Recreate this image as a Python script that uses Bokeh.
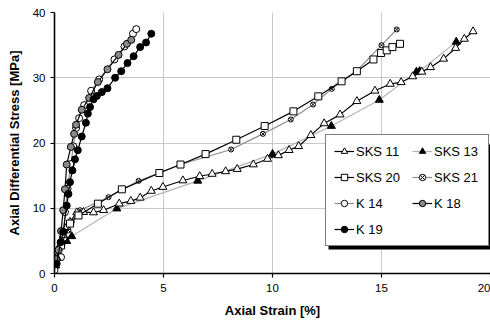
from bokeh.plotting import figure
from bokeh.models import Range1d, Legend, LegendItem, BoxAnnotation, FixedTicker
from bokeh.embed import file_html
from bokeh.resources import INLINE

# ---- data ----
sks11_x = [0.02, 0.1, 0.25, 0.4, 0.56, 0.71, 1.02, 1.33, 1.79, 2.25, 2.97, 3.5, 3.93, 4.44, 4.97, 5.89,
           6.66, 7.23, 7.85, 8.38, 9.12, 9.77, 10.27, 10.76, 11.2, 11.76, 12.37, 13.1, 13.87, 14.7, 15.4,
           15.9, 16.43, 16.85, 17.25, 17.85, 18.4, 18.8, 19.2]
sks11_y = [1.5, 2.5, 4.3, 5.9, 7.1, 7.9, 9.35, 9.4, 9.35, 9.7, 10.7, 11.1, 11.6, 12.65, 13.25, 14.25,
           14.9, 15.25, 15.65, 16.0, 16.7, 17.55, 18.1, 18.9, 19.5, 21.2, 23.0, 24.35, 26.4, 28.0, 29.05,
           29.3, 30.2, 30.9, 31.6, 32.9, 34.55, 35.95, 37.1]

sks13_x = [0.05, 0.56, 0.79, 2.86, 6.57, 10.0, 12.7, 14.9, 16.6, 16.75, 18.43]
sks13_y = [1.2, 4.95, 5.7, 9.95, 14.2, 18.3, 22.6, 26.6, 30.9, 31.0, 35.5]

sks20_x = [0.05, 0.3, 0.71, 1.1, 1.99, 3.09, 4.81, 5.78, 6.93, 8.34, 9.64, 10.96, 12.1, 13.17, 13.87,
           14.63, 14.98, 15.24, 15.5, 15.85]
sks20_y = [1.8, 4.3, 7.65, 8.9, 10.7, 12.9, 15.4, 16.7, 18.3, 20.5, 22.6, 24.85, 27.15, 29.45, 31.0,
           32.8, 33.8, 34.2, 34.7, 35.2]

sks21_x = [0.05, 0.35, 0.64, 0.79, 1.17, 2.48, 3.86, 5.78, 8.1, 9.56, 10.84, 11.86, 12.72, 13.87, 15.0, 15.7]
sks21_y = [2.0, 4.5, 6.6, 7.9, 9.7, 11.7, 14.2, 16.7, 19.0, 21.4, 23.6, 25.9, 28.3, 31.1, 35.0, 37.4]

k14_x = [0.0, 0.3, 0.42, 0.48, 0.6, 0.75, 0.86, 0.99, 1.13, 1.36, 1.68, 2.05, 2.75, 3.21, 3.6, 3.75]
k14_y = [0.5, 2.5, 5.5, 9.4, 13.0, 16.8, 19.5, 22.3, 23.8, 25.8, 28.0, 29.75, 32.8, 34.8, 36.75, 37.45]

k18_x = [0.07, 0.18, 0.3, 0.4, 0.48, 0.56, 0.75, 0.9, 0.99, 1.25, 1.59, 1.99, 2.43, 2.94, 3.32, 3.52]
k18_y = [2.2, 3.6, 6.5, 9.7, 12.9, 16.7, 19.4, 21.4, 22.8, 25.1, 26.9, 29.35, 31.3, 33.5, 35.2, 35.8]

k19_x = [0.02, 0.1, 0.28, 0.4, 0.56, 0.64, 0.71, 0.82, 0.94, 1.07, 1.25, 1.44, 1.53, 1.63, 1.79, 1.94,
         2.17, 2.43, 2.78, 3.06, 3.35, 3.63, 3.93, 4.2, 4.44]
k19_y = [1.4, 1.5, 4.8, 6.4, 10.4, 12.2, 14.0, 15.8, 17.5, 18.9, 21.0, 23.1, 24.5, 25.5, 26.7, 27.2,
         27.8, 28.4, 30.0, 31.0, 32.25, 33.3, 34.7, 35.4, 36.75]

x_ticks = [0, 5, 10, 15, 20]
y_ticks = [0, 10, 20, 30, 40]

FONT = "Liberation Sans"
GRAY_LINE = "#b4b4b4"

p = figure(width=490, height=322, output_backend="svg", toolbar_location=None,
           x_range=Range1d(0, 20), y_range=Range1d(0, 40),
           min_border_left=54, min_border_right=0, min_border_top=12, min_border_bottom=49)
p.outline_line_color = None
p.background_fill_color = "white"
p.border_fill_color = "white"

for ax in (p.xaxis[0], p.yaxis[0]):
    ax.axis_line_color = "black"
    ax.axis_line_width = 1.6
    ax.major_tick_line_color = "black"
    ax.major_tick_line_width = 1.2
    ax.major_tick_out = 4
    ax.major_tick_in = 0
    ax.minor_tick_line_color = None
    ax.major_label_text_font = FONT
    ax.major_label_text_font_size = "11.5px"
    ax.major_label_text_color = "black"
    ax.axis_label_text_font = FONT
    ax.axis_label_text_font_style = "bold"
    ax.axis_label_text_font_size = "13px"
    ax.axis_label_text_color = "black"

p.xaxis[0].ticker = FixedTicker(ticks=x_ticks)
p.yaxis[0].ticker = FixedTicker(ticks=y_ticks)
p.xaxis[0].axis_label = "Axial Strain [%]"
p.yaxis[0].axis_label = "Axial Differential Stress [MPa]"
p.xaxis[0].major_label_standoff = 6
p.yaxis[0].major_label_standoff = 5
p.xaxis[0].axis_label_standoff = 8
p.yaxis[0].axis_label_standoff = 8

p.xgrid.ticker = FixedTicker(ticks=x_ticks)
p.ygrid.ticker = FixedTicker(ticks=y_ticks)
p.grid.grid_line_color = "#c8c8c8"
p.grid.grid_line_width = 1

items = []
def series(xs, ys, label, line_color, marker, fill, size=7, mline="black"):
    l = p.line(xs, ys, line_color=line_color, line_width=1.2)
    s = p.scatter(xs, ys, marker=marker, size=size, fill_color=fill, line_color=mline, line_width=1)
    items.append(LegendItem(label=label, renderers=[l, s]))

series(sks13_x, sks13_y, "SKS 13", GRAY_LINE, "triangle", "black", 8)
series(sks21_x, sks21_y, "SKS 21", "#8c8c8c", "circle_x", "white", 5)
series(k14_x, k14_y, "K 14", "#8c8c8c", "circle", "white", 7)
series(sks11_x, sks11_y, "SKS 11", "black", "triangle", "white", 8)
series(sks20_x, sks20_y, "SKS 20", "black", "square", "white", 7)
series(k18_x, k18_y, "K 18", "black", "circle", "#8a8a8a", 7)
series(k19_x, k19_y, "K 19", "black", "circle", "black", 7)

order = ["SKS 11", "SKS 13", "SKS 20", "SKS 21", "K 14", "K 18", "K 19"]
by = {it.label.value if hasattr(it.label, "value") else it.label: it for it in items}
ordered = [by[k] for k in order]

# legend drop shadow (decoration), offset 3px from the legend box
px_per_x = 436 / 20.0
px_per_y = 261 / 40.0
shadow = BoxAnnotation(left=(328 - 54) / px_per_x, right=(491 - 54) / px_per_x,
                       top=(273 - 144) / px_per_y, bottom=(273 - 249) / px_per_y,
                       fill_color="black", fill_alpha=1, line_color=None, level="annotation")
p.add_layout(shadow)

legend = Legend(items=ordered, location=(271, 27), orientation="horizontal", ncols=2,
                label_text_font=FONT, label_text_font_size="13px", label_text_color="black",
                glyph_width=20, glyph_height=16, label_height=16, label_width=46, label_standoff=2,
                spacing=10, padding=8, margin=0,
                border_line_color="black", border_line_width=1.2,
                background_fill_color="white", background_fill_alpha=1)
p.add_layout(legend)

open("out.html", "w").write(file_html(p, INLINE))
